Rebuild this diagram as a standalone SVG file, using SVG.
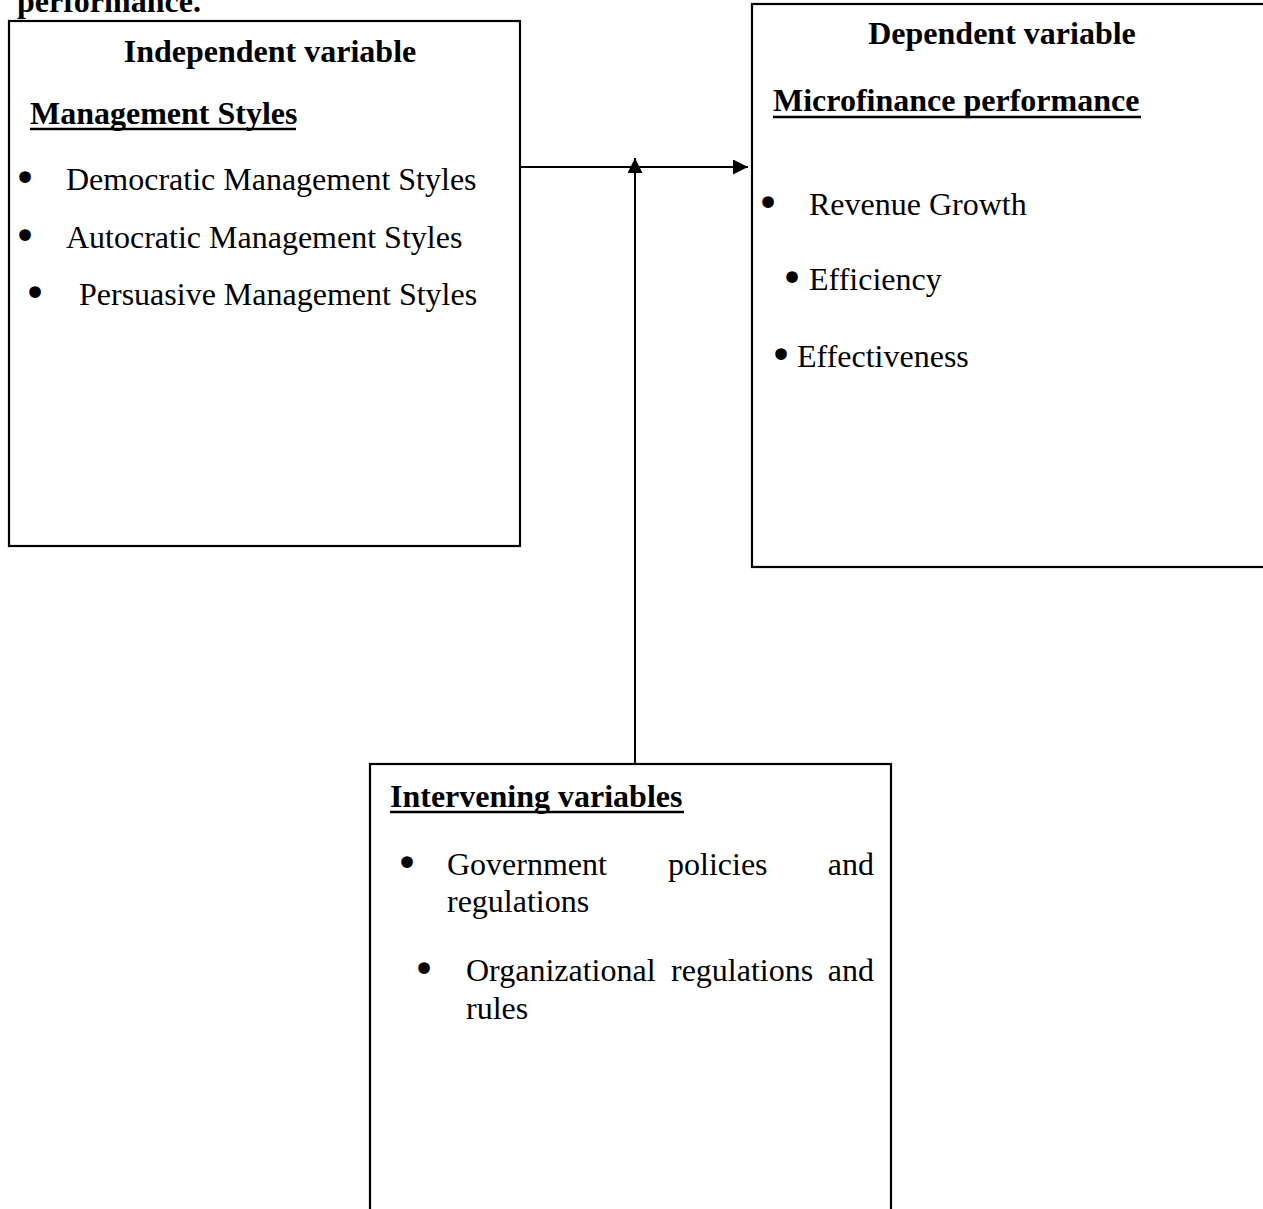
<svg xmlns="http://www.w3.org/2000/svg" width="1263" height="1209" viewBox="0 0 1263 1209">
<style>
.box{fill:none;stroke:#000;stroke-width:2.2}
.t{font-family:"Liberation Serif","Times New Roman",serif;font-size:32px;fill:#000}
.b{font-weight:bold}
.bul{font-family:"DejaVu Sans",sans-serif;font-size:40px;fill:#000;text-anchor:middle}
.ul{stroke:#000;stroke-width:2.5}
.conn{stroke:#000;stroke-width:2;fill:none}
</style>
<defs>
<marker id="arrow" viewBox="0 0 15 15" markerWidth="15" markerHeight="15" refX="15" refY="7.5" orient="auto" markerUnits="userSpaceOnUse">
<path d="M0,0 L15,7.5 L0,15 z" fill="#000"/>
</marker>
</defs>
<rect width="1263" height="1209" fill="#fff"/>
<text class="t b" x="17" y="12">performance.</text>

<g id="independent">
<rect class="box" x="9" y="21" width="511" height="525"/>
<text class="t b" x="270" y="62" text-anchor="middle">Independent variable</text>
<text class="t b" x="30" y="124">Management Styles</text>
<line class="ul" x1="30" y1="129" x2="296" y2="129"/>
<text class="bul" x="25" y="192">•</text>
<text class="t" x="66" y="190">Democratic Management Styles</text>
<text class="bul" x="25" y="250">•</text>
<text class="t" x="66" y="248">Autocratic Management Styles</text>
<text class="bul" x="35" y="307">•</text>
<text class="t" x="79" y="305">Persuasive Management Styles</text>
</g>

<g id="dependent">
<rect class="box" x="752" y="4" width="530" height="563"/>
<text class="t b" x="1002" y="44" text-anchor="middle">Dependent variable</text>
<text class="t b" x="773" y="111">Microfinance performance</text>
<line class="ul" x1="773" y1="117" x2="1141" y2="117"/>
<text class="bul" x="768" y="217">•</text>
<text class="t" x="809" y="215">Revenue Growth</text>
<text class="bul" x="792" y="292">•</text>
<text class="t" x="809" y="290">Efficiency</text>
<text class="bul" x="781" y="369">•</text>
<text class="t" x="797" y="367">Effectiveness</text>
</g>

<g id="intervening">
<rect class="box" x="370" y="764" width="521" height="470"/>
<text class="t b" x="390" y="807">Intervening variables</text>
<line class="ul" x1="390" y1="812" x2="684" y2="812"/>
<text class="bul" x="407" y="877">•</text>
<text class="t" x="447" y="875">Government</text>
<text class="t" x="668" y="875">policies</text>
<text class="t" x="874" y="875" text-anchor="end">and</text>
<text class="t" x="447" y="912">regulations</text>
<text class="bul" x="424" y="983">•</text>
<text class="t" x="466" y="981">Organizational</text>
<text class="t" x="671" y="981">regulations</text>
<text class="t" x="874" y="981" text-anchor="end">and</text>
<text class="t" x="466" y="1019">rules</text>
</g>

<g id="connectors">
<line class="conn" x1="520" y1="167" x2="748" y2="167" marker-end="url(#arrow)"/>
<line class="conn" x1="635" y1="764" x2="635" y2="158" marker-end="url(#arrow)"/>
</g>
</svg>
